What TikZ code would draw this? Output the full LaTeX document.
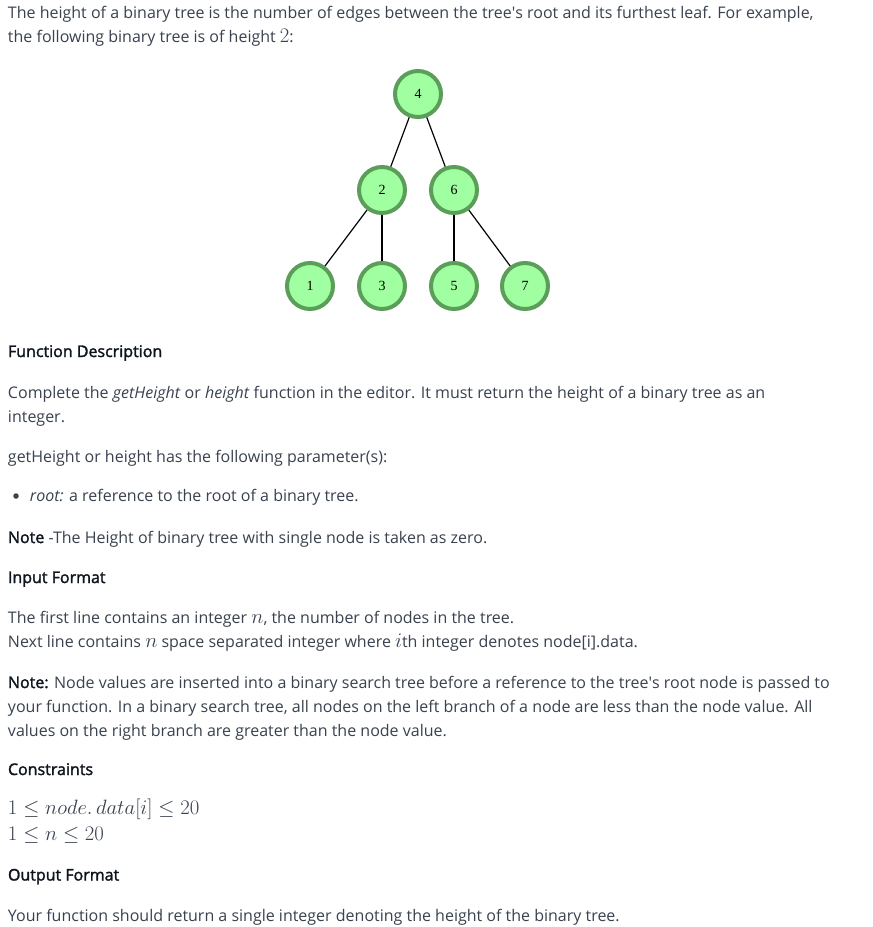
\documentclass[tikz,border=0pt]{standalone}
\usepackage{fontspec}
\setmainfont{Open Sans}
\newfontfamily\semib[FakeBold=1.8]{Open Sans}
\newfontfamily\nodefont{Liberation Serif}
\definecolor{txt}{HTML}{39424E}
\definecolor{hd}{HTML}{0E141E}
\definecolor{nfill}{HTML}{A0FFA0}
\definecolor{nline}{HTML}{5A9E5A}
\newcommand\mykm[1]{{\fontsize{19.5}{22}\selectfont$#1$}}
\begin{document}
\begin{tikzpicture}[x=1pt,y=-1pt,
  txtline/.style={anchor=base west, inner sep=0pt, outer sep=0pt, text=txt, font=\fontsize{16}{24}\selectfont},
  headline/.style={txtline, text=hd, font=\fontsize{16}{24}\selectfont\semib},
  tnode/.style={circle, draw=nline, fill=nfill, line width=4pt, minimum size=46pt, inner sep=0pt, font=\nodefont\fontsize{14}{14}\selectfont},
  tedge/.style={draw=black, line width=1.2pt},
  bulletdot/.style={circle, fill=txt, inner sep=0pt, minimum size=5.5pt}]
\useasboundingbox[fill=white] (0,0) rectangle (873,927);
% tree
\node[tnode] (n4) at (418,94) {4};
\node[tnode] (n2) at (382,190) {2};
\node[tnode] (n6) at (454,190) {6};
\node[tnode] (n1) at (310,286) {1};
\node[tnode] (n3) at (382,286) {3};
\node[tnode] (n5) at (454,286) {5};
\node[tnode] (n7) at (525,286) {7};
\draw[tedge] (n4) -- (n2);
\draw[tedge] (n4) -- (n6);
\draw[tedge] (n2) -- (n1);
\draw[tedge] (n2) -- (n3);
\draw[tedge] (n6) -- (n5);
\draw[tedge] (n6) -- (n7);
% text
\node[txtline] (t1) at (8,18.5) {The height of a binary tree is the number of edges between the tree\textquotesingle s root and its furthest leaf. For example,};
\node[txtline] (t2) at (8,42.5) {the following binary tree is of height \mykm{2}:};
\node[headline] (h1) at (8,357) {Function Description};
\node[txtline] (t3) at (8,398) {Complete the \textit{getHeight} or \textit{height} function in the editor. It must return the height of a binary tree as an};
\node[txtline] (t4) at (8,422) {integer.};
\node[txtline] (t5) at (8,462) {getHeight or height has the following parameter(s):};
\node[bulletdot] (b1) at (16,496) {};
\node[txtline] (t6) at (30,501) {\textit{root:} a reference to the root of a binary tree.};
\node[txtline] (t7) at (8,543) {\textcolor{hd}{\semib Note} -The Height of binary tree with single node is taken as zero.};
\node[headline] (h2) at (8,583) {Input Format};
\node[txtline] (t8) at (8,623) {The first line contains an integer \mykm{n}, the number of nodes in the tree.};
\node[txtline] (t9) at (8,647) {Next line contains \mykm{n} space separated integer where \mykm{i}th integer denotes node[i].data.};
\node[txtline] (t10) at (8,688) {\textcolor{hd}{\semib Note:} Node values are inserted into a binary search tree before a reference to the tree\textquotesingle s root node is passed to};
\node[txtline] (t11) at (8,712) {your function. In a binary search tree, all nodes on the left branch of a node are less than the node value. All};
\node[txtline] (t12) at (8,736) {values on the right branch are greater than the node value.};
\node[headline] (h3) at (8,775) {Constraints};
\node[txtline] (m1) at (8,814.5) {\mykm{1 \le node.\,data[i] \le 20}};
\node[txtline] (m2) at (8,840) {\mykm{1 \le n \le 20}};
\node[headline] (h4) at (8,880.5) {Output Format};
\node[txtline] (t13) at (8,921.5) {Your function should return a single integer denoting the height of the binary tree.};
\end{tikzpicture}
\end{document}
